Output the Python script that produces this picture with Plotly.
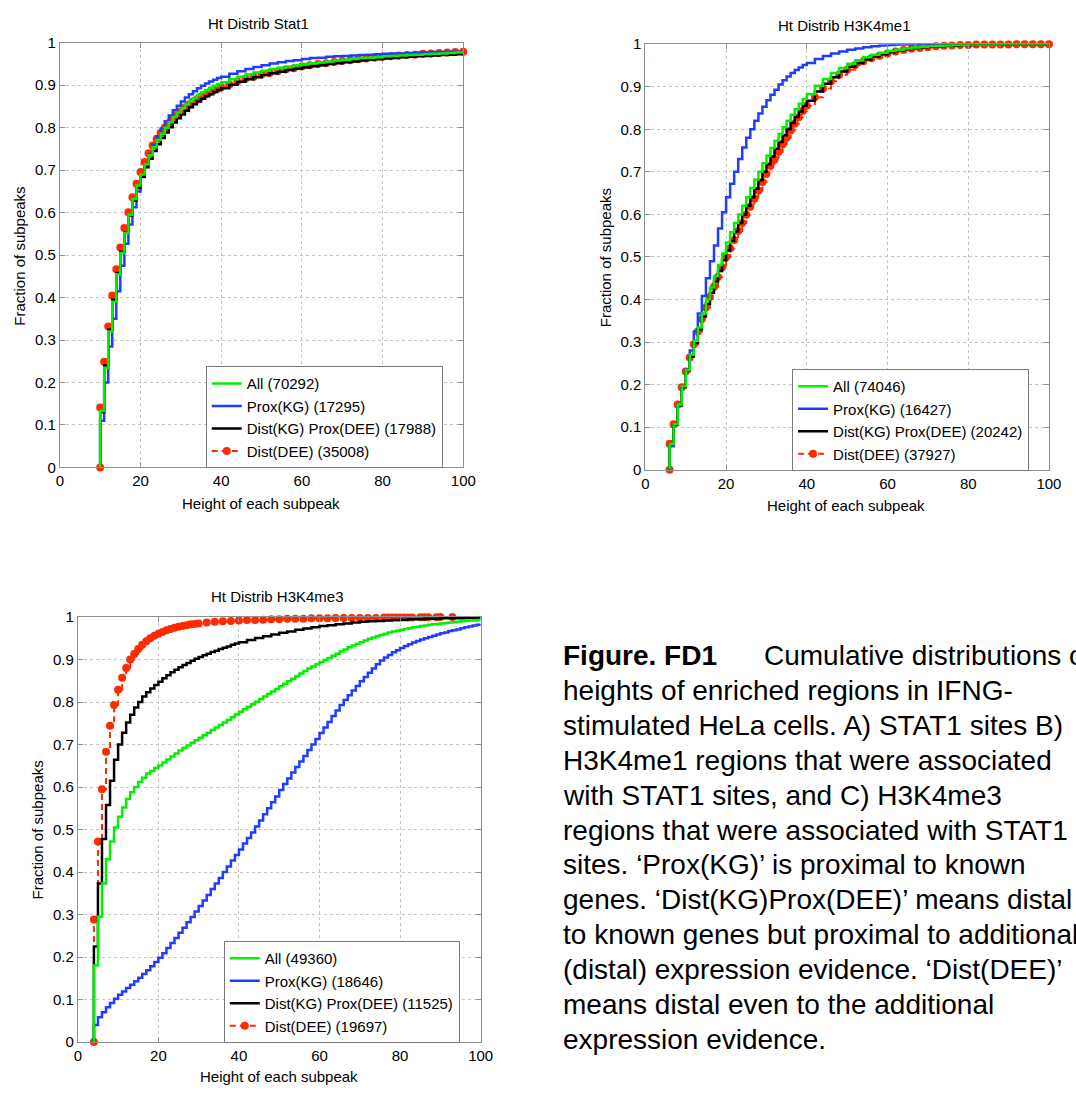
import plotly.graph_objects as go

W, H = 1076, 1094
FONT = "Liberation Sans, Arial, Helvetica, sans-serif"

# ---------------- Data ----------------
series_names_A = ["All (70292)", "Prox(KG) (17295)", "Dist(KG) Prox(DEE) (17988)", "Dist(DEE) (35008)"]
series_names_B = ["All (74046)", "Prox(KG) (16427)", "Dist(KG) Prox(DEE) (20242)", "Dist(DEE) (37927)"]
series_names_C = ["All (49360)", "Prox(KG) (18646)", "Dist(KG) Prox(DEE) (11525)", "Dist(DEE) (19697)"]
titles = ["Ht Distrib Stat1", "Ht Distrib H3K4me1", "Ht Distrib H3K4me3"]

# Panel A (Stat1): heights 10..40 every unit, then 42..100 every 2
x_A = [10] + list(range(10, 41)) + list(range(42, 101, 2))
all_A = [0, 0.133, 0.235, 0.320, 0.390, 0.455, 0.505, 0.552, 0.595, 0.632, 0.664,
         0.690, 0.714, 0.735, 0.754, 0.771, 0.786, 0.800, 0.813, 0.825, 0.836,
         0.846, 0.855, 0.863, 0.870, 0.877, 0.883, 0.889, 0.894, 0.899, 0.903, 0.907,
         0.914, 0.920, 0.925, 0.930, 0.934, 0.938, 0.941, 0.944, 0.947, 0.950,
         0.952, 0.954, 0.956, 0.958, 0.960, 0.962, 0.964, 0.965, 0.966, 0.968,
         0.969, 0.970, 0.971, 0.972, 0.973, 0.974, 0.975, 0.976, 0.977, 0.978]
prox_A = [0, 0.110, 0.200, 0.285, 0.350, 0.415, 0.475, 0.527, 0.572, 0.613, 0.650,
          0.685, 0.713, 0.738, 0.760, 0.780, 0.798, 0.815, 0.829, 0.841, 0.852,
          0.862, 0.871, 0.879, 0.886, 0.893, 0.899, 0.904, 0.909, 0.913, 0.917, 0.920,
          0.927, 0.933, 0.938, 0.943, 0.947, 0.951, 0.954, 0.957, 0.959, 0.962,
          0.964, 0.965, 0.967, 0.968, 0.969, 0.970, 0.971, 0.972, 0.973, 0.974,
          0.975, 0.975, 0.976, 0.977, 0.977, 0.978, 0.978, 0.979, 0.979, 0.980]
distkg_A = [0, 0.130, 0.240, 0.325, 0.395, 0.458, 0.508, 0.553, 0.593, 0.628, 0.658,
            0.684, 0.707, 0.727, 0.745, 0.761, 0.776, 0.789, 0.801, 0.812, 0.822,
            0.831, 0.840, 0.848, 0.855, 0.862, 0.868, 0.874, 0.879, 0.884, 0.889, 0.893,
            0.901, 0.908, 0.914, 0.919, 0.924, 0.928, 0.932, 0.936, 0.939, 0.942,
            0.945, 0.947, 0.950, 0.952, 0.954, 0.956, 0.958, 0.960, 0.961, 0.963,
            0.964, 0.966, 0.967, 0.968, 0.969, 0.970, 0.971, 0.972, 0.973, 0.974]
distdee_A = [0, 0.141, 0.249, 0.332, 0.405, 0.467, 0.518, 0.564, 0.601, 0.636, 0.668,
             0.696, 0.719, 0.740, 0.758, 0.774, 0.788, 0.800, 0.811, 0.821, 0.830,
             0.839, 0.847, 0.854, 0.861, 0.867, 0.873, 0.878, 0.883, 0.887, 0.891, 0.895,
             0.902, 0.909, 0.915, 0.920, 0.925, 0.929, 0.933, 0.937, 0.940, 0.944,
             0.947, 0.950, 0.952, 0.955, 0.957, 0.959, 0.961, 0.963, 0.965, 0.967,
             0.968, 0.970, 0.971, 0.972, 0.974, 0.975, 0.976, 0.977, 0.978, 0.979]

# Panel B (H3K4me1): heights 6..40 every unit, then 42..100 every 2
x_B = [6] + list(range(6, 41)) + list(range(42, 101, 2))
all_B = [0, 0.060, 0.107, 0.153, 0.196,
         0.234, 0.270, 0.303, 0.334, 0.367, 0.400, 0.428, 0.455, 0.481, 0.508,
         0.534, 0.558, 0.580, 0.600, 0.620, 0.640, 0.662, 0.682, 0.700, 0.720,
         0.738, 0.756, 0.773, 0.789, 0.805, 0.820, 0.834, 0.847, 0.860, 0.871, 0.882,
         0.902, 0.918, 0.932, 0.944, 0.954, 0.962, 0.969, 0.975, 0.980, 0.984,
         0.987, 0.990, 0.992, 0.994, 0.995, 0.996, 0.997, 0.998, 0.998, 0.999,
         0.999, 0.999, 0.999, 1.0, 1.0, 1.0, 1.0, 1.0, 1.0, 1.0]
prox_B = [0, 0.055, 0.105, 0.150, 0.195,
          0.235, 0.280, 0.325, 0.367, 0.408, 0.450, 0.490, 0.527, 0.567, 0.605,
          0.640, 0.672, 0.700, 0.730, 0.757, 0.780, 0.800, 0.820, 0.837, 0.853,
          0.868, 0.881, 0.893, 0.905, 0.915, 0.924, 0.932, 0.939, 0.945, 0.951, 0.956,
          0.965, 0.972, 0.978, 0.983, 0.987, 0.990, 0.993, 0.995, 0.997, 0.998,
          0.999, 0.999, 1.0, 1.0, 1.0, 1.0, 1.0, 1.0, 1.0, 1.0,
          1.0, 1.0, 1.0, 1.0, 1.0, 1.0, 1.0, 1.0, 1.0, 1.0]
distkg_B = [0, 0.060, 0.106, 0.152, 0.194,
            0.232, 0.266, 0.298, 0.330, 0.360, 0.390, 0.416, 0.442, 0.467, 0.492,
            0.516, 0.538, 0.560, 0.580, 0.600, 0.620, 0.640, 0.660, 0.680, 0.700,
            0.718, 0.736, 0.754, 0.770, 0.786, 0.800, 0.815, 0.829, 0.842, 0.855, 0.867,
            0.889, 0.907, 0.922, 0.936, 0.947, 0.956, 0.964, 0.971, 0.976, 0.981,
            0.985, 0.988, 0.991, 0.993, 0.994, 0.995, 0.996, 0.997, 0.998, 0.998,
            0.999, 0.999, 0.999, 0.999, 1.0, 1.0, 1.0, 1.0, 1.0, 1.0]
distdee_B = [0, 0.061, 0.107, 0.153, 0.194,
             0.231, 0.264, 0.295, 0.325, 0.354, 0.381, 0.406, 0.430, 0.453, 0.476,
             0.499, 0.520, 0.540, 0.561, 0.580, 0.599, 0.618, 0.637, 0.656, 0.676,
             0.695, 0.714, 0.729, 0.747, 0.765, 0.780, 0.797, 0.813, 0.828, 0.843, 0.855,
             0.875, 0.896, 0.913, 0.928, 0.940, 0.951, 0.960, 0.967, 0.973, 0.978,
             0.983, 0.986, 0.989, 0.991, 0.993, 0.995, 0.996, 0.997, 0.998, 0.998,
             0.999, 0.999, 0.999, 0.999, 0.999, 1.0, 1.0, 1.0, 1.0, 1.0]

# Panel C (H3K4me3)
x_C = [4] + list(range(4, 101))
all_C = [0, 0.180, 0.295, 0.373, 0.430, 0.472, 0.505, 0.530, 0.552, 0.572, 0.588,
         0.600, 0.612, 0.622, 0.632, 0.638, 0.645, 0.651, 0.658, 0.665, 0.672,
         0.679, 0.686, 0.692, 0.698, 0.704, 0.710, 0.716, 0.722, 0.728, 0.734,
         0.740, 0.746, 0.752, 0.758, 0.764, 0.771, 0.777, 0.783, 0.789, 0.795,
         0.801, 0.807, 0.813, 0.819, 0.825, 0.831, 0.837, 0.843, 0.849, 0.855,
         0.861, 0.867, 0.873, 0.879, 0.884, 0.889, 0.894, 0.899, 0.904, 0.909,
         0.914, 0.919, 0.924, 0.929, 0.933, 0.937, 0.941, 0.945, 0.949, 0.952,
         0.955, 0.958, 0.961, 0.964, 0.966, 0.968, 0.970, 0.972, 0.974, 0.976,
         0.977, 0.979, 0.980, 0.982, 0.983, 0.984, 0.985, 0.986, 0.987, 0.988,
         0.989, 0.990, 0.991, 0.992, 0.992, 0.993, 0.994]
prox_C = [0, 0.040, 0.058, 0.070, 0.082, 0.092, 0.102, 0.111, 0.119, 0.127, 0.135,
          0.143, 0.151, 0.160, 0.169, 0.178, 0.188,
          0.198, 0.209, 0.221, 0.233, 0.245, 0.257, 0.269, 0.282, 0.294, 0.307,
          0.320, 0.333, 0.346, 0.360, 0.373, 0.386, 0.400, 0.413, 0.427, 0.440,
          0.453, 0.467, 0.480, 0.493, 0.507, 0.521, 0.536, 0.550, 0.564, 0.578,
          0.593, 0.607, 0.620, 0.634, 0.647, 0.660, 0.673, 0.687, 0.700, 0.713,
          0.727, 0.740, 0.753, 0.767, 0.780, 0.793, 0.805, 0.816, 0.827, 0.838,
          0.849, 0.859, 0.869, 0.879, 0.889, 0.898, 0.905, 0.911, 0.917, 0.922,
          0.927, 0.932, 0.936, 0.940, 0.944, 0.947, 0.950, 0.953, 0.956, 0.959,
          0.962, 0.964, 0.967, 0.969, 0.971, 0.974, 0.976, 0.978, 0.980, 0.982, 0.984]
x_C_distkg = [4] + list(range(4, 41)) + list(range(42, 101, 2))
distkg_C = [0, 0.225, 0.373, 0.478, 0.558, 0.615, 0.664, 0.700, 0.728, 0.752, 0.770,
            0.787, 0.800, 0.813, 0.823, 0.832, 0.840, 0.848, 0.856, 0.863, 0.870,
            0.876, 0.882, 0.887, 0.892, 0.897, 0.902, 0.906, 0.910, 0.914, 0.918,
            0.921, 0.925, 0.928, 0.931, 0.935, 0.938, 0.941,
            0.946, 0.951, 0.955, 0.959, 0.963, 0.966, 0.970, 0.973, 0.976, 0.979,
            0.981, 0.983, 0.985, 0.987, 0.989, 0.990, 0.991, 0.992, 0.993, 0.994,
            0.995, 0.995, 0.996, 0.996, 0.997, 0.997, 0.997, 0.998, 0.998, 0.998]
x_C_distdee = ([4] + list(range(4, 31)) + list(range(32, 71, 2)) +
               [72, 74, 76, 77, 78, 79, 80, 81, 82, 83, 85, 86, 87, 89, 90, 93])
distdee_C = [0, 0.288, 0.472, 0.595, 0.683, 0.744, 0.793, 0.829, 0.857, 0.880, 0.900,
             0.913, 0.925, 0.935, 0.943, 0.950, 0.956, 0.961, 0.965, 0.969, 0.972,
             0.975, 0.977, 0.979, 0.981, 0.983, 0.984, 0.985,
             0.987, 0.989, 0.990, 0.991, 0.992, 0.993, 0.993, 0.994, 0.995, 0.995,
             0.996, 0.996, 0.996, 0.997, 0.997, 0.997, 0.998, 0.998, 0.998, 0.998,
             0.998, 0.998, 0.999, 0.999, 0.999, 0.999, 0.999, 0.999, 0.999, 0.999,
             0.9995, 0.9995, 0.9995, 0.9995, 1.0, 1.0]

x_ticks = [0, 20, 40, 60, 80, 100]
y_ticks = [0, 0.1, 0.2, 0.3, 0.4, 0.5, 0.6, 0.7, 0.8, 0.9, 1]

caption_lines = [
    "heights of enriched regions in IFNG-",
    "stimulated HeLa cells. A) STAT1 sites B)",
    "H3K4me1 regions that were associated",
    "with STAT1 sites, and C) H3K4me3",
    "regions that were associated with STAT1",
    "sites. \u2018Prox(KG)\u2019 is proximal to known",
    "genes. \u2018Dist(KG)Prox(DEE)\u2019 means distal",
    "to known genes but proximal to additional",
    "(distal) expression evidence. \u2018Dist(DEE)\u2019",
    "means distal even to the additional",
    "expression evidence.",
]

# ---------------- Styling ----------------
GREEN = "#00f000"
BLUE = "#1f3cff"
BLACK = "#000000"
RED = "#ff2a00"
LW = 2.5

fig = go.Figure()

panels = [
    dict(ax="", leg="legend", names=series_names_A,
         data=[(x_A, distdee_A), (x_A, prox_A), (x_A, distkg_A), (x_A, all_A)]),
    dict(ax="2", leg="legend2", names=series_names_B,
         data=[(x_B, distdee_B), (x_B, prox_B), (x_B, distkg_B), (x_B, all_B)]),
    dict(ax="3", leg="legend3", names=series_names_C,
         data=[(x_C_distdee, distdee_C), (x_C, prox_C), (x_C_distkg, distkg_C), (x_C, all_C)]),
]

for p in panels:
    names = p["names"]
    (xr, yr), (xb, yb), (xk, yk), (xg, yg) = p["data"]
    common = dict(xaxis="x" + p["ax"], yaxis="y" + p["ax"], legend=p["leg"], cliponaxis=False)
    fig.add_trace(go.Scatter(x=xr, y=yr, name=names[3], mode="lines+markers", legendrank=4,
                             line=dict(shape="hv", color=RED, width=2, dash="6px,4px"),
                             marker=dict(symbol="circle", size=8, color=RED), **common))
    fig.add_trace(go.Scatter(x=xb, y=yb, name=names[1], mode="lines", legendrank=2,
                             line=dict(shape="hv", color=BLUE, width=LW), **common))
    fig.add_trace(go.Scatter(x=xk, y=yk, name=names[2], mode="lines", legendrank=3,
                             line=dict(shape="hv", color=BLACK, width=LW), **common))
    fig.add_trace(go.Scatter(x=xg, y=yg, name=names[0], mode="lines", legendrank=1,
                             line=dict(shape="hv", color=GREEN, width=LW), **common))

def px_x(v):
    return v / W

def px_y(v):
    return 1 - v / H

# axis boxes in pixels: (left, right, top, bottom)
boxes = {
    "": (56.7, 466.7, 34.3, 465.7),
    "2": (651.7, 1061.7, 35.7, 468.0),
    "3": (75.0, 484.3, 617.7, 1049.3),
}

axis_common = dict(
    showline=True, linecolor="#8f8f8f", linewidth=1, mirror="ticks",
    ticks="inside", ticklen=5, tickcolor="#8f8f8f", tickwidth=1,
    showgrid=True, gridcolor="#c4c4c4", gridwidth=1, griddash="dot",
    zeroline=False, tickfont=dict(family=FONT, size=15, color="black"),
)

layout = dict(
    width=W, height=H, autosize=False,
    margin=dict(l=0, r=0, t=0, b=0),
    paper_bgcolor="white", plot_bgcolor="white",
    font=dict(family=FONT, size=15, color="black"),
)
for k, (l, r, t, b) in boxes.items():
    layout["xaxis" + k] = dict(domain=[px_x(l), px_x(r)], range=[0, 100], tickvals=x_ticks,
                               anchor="y" + k, **axis_common)
    layout["yaxis" + k] = dict(domain=[px_y(b), px_y(t)], range=[0, 1], tickvals=y_ticks,
                               ticktext=[("%g" % v) for v in y_ticks], anchor="x" + k, **axis_common)

leg_common = dict(xanchor="left", yanchor="top", bgcolor="white", bordercolor="#7a7a7a",
                  borderwidth=1, font=dict(family=FONT, size=15, color="black"),
                  tracegroupgap=0)
layout["legend"] = dict(x=px_x(205), y=px_y(363), **leg_common)
layout["legend2"] = dict(x=px_x(800.7), y=px_y(365.7), **leg_common)
layout["legend3"] = dict(x=px_x(223.3), y=px_y(946.7), **leg_common)
fig.update_layout(**layout)

annotations = []

def ann(text, x, y, size=15, angle=0, xanchor="center", bold=False):
    annotations.append(dict(text=("<b>%s</b>" % text) if bold else text, x=px_x(x), y=px_y(y),
                            xref="paper", yref="paper", showarrow=False, xanchor=xanchor,
                            yanchor="middle", textangle=angle,
                            font=dict(family=FONT, size=size, color="black")))

# titles
ann(titles[0], 259, 15)
ann(titles[1], 854, 16.7)
ann(titles[2], 278, 597)
# x-axis titles
ann("Height of each subpeak", 261, 502)
ann("Height of each subpeak", 856, 504)
ann("Height of each subpeak", 279, 1084)
# y-axis titles
ann("Fraction of subpeaks", 16.3, 251.5, angle=-90)
ann("Fraction of subpeaks", 610.8, 253, angle=-90)
ann("Fraction of subpeaks", 34, 834, angle=-90)

# caption
cap_x = 566
line0 = 657
step = 35.4
ann("Figure. FD1", cap_x, line0, size=28, xanchor="left", bold=True)
ann("Cumulative distributions of", 770, line0, size=28, xanchor="left")
for i, t in enumerate(caption_lines):
    ann(t, cap_x, line0 + step * (i + 1), size=28, xanchor="left")

fig.update_layout(annotations=annotations)

fig.write_html("out.html")
